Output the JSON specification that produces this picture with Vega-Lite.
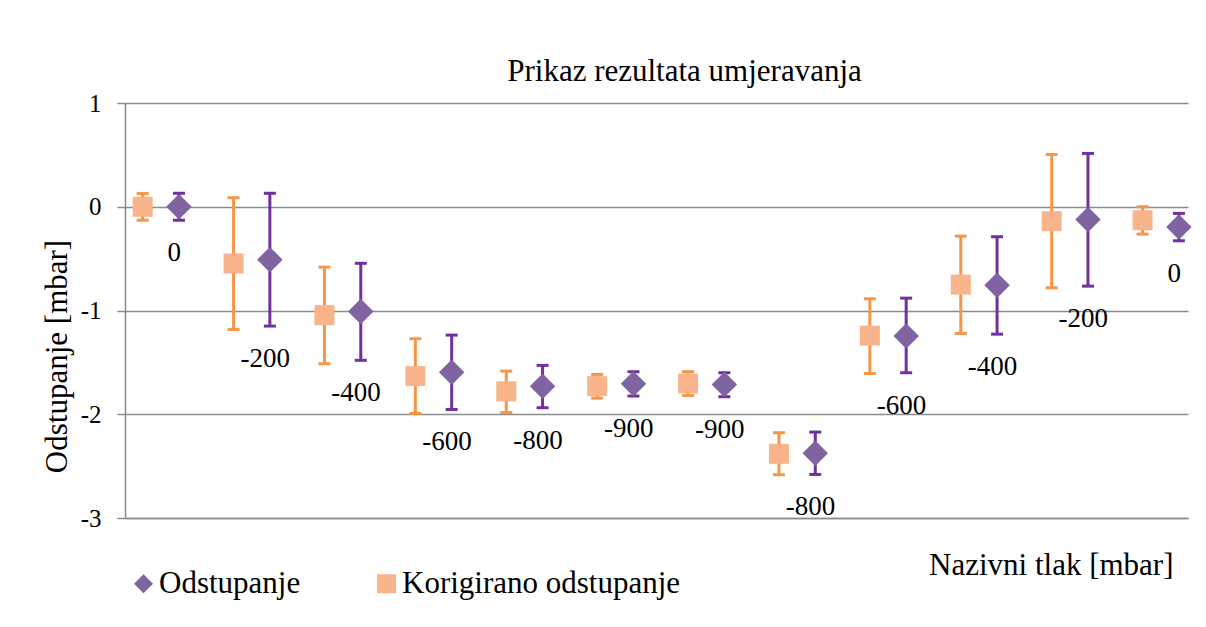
{
  "$schema": "https://vega.github.io/schema/vega-lite/v6.json",
  "width": 1063,
  "height": 415,
  "autosize": {"type": "none"},
  "padding": {"left": 125, "top": 103, "right": 18, "bottom": 109},
  "background": "white",
  "title": {
    "text": "Prikaz rezultata umjeravanja",
    "font": "Liberation Serif",
    "fontSize": 31,
    "fontWeight": "normal",
    "color": "black",
    "anchor": "middle",
    "baseline": "alphabetic",
    "offset": 18,
    "dx": 28,
    "dy": 39
  },
  "data": {
    "values": [
      {"i": 1, "series": "Odstupanje", "value": 0.0, "low": -0.13, "high": 0.13, "label": "0"},
      {"i": 2, "series": "Odstupanje", "value": -0.51, "low": -1.15, "high": 0.13, "label": "-200"},
      {"i": 3, "series": "Odstupanje", "value": -1.01, "low": -1.48, "high": -0.545, "label": "-400"},
      {"i": 4, "series": "Odstupanje", "value": -1.595, "low": -1.954, "high": -1.237, "label": "-600"},
      {"i": 5, "series": "Odstupanje", "value": -1.73, "low": -1.937, "high": -1.529, "label": "-800"},
      {"i": 6, "series": "Odstupanje", "value": -1.705, "low": -1.825, "high": -1.59, "label": "-900"},
      {"i": 7, "series": "Odstupanje", "value": -1.714, "low": -1.831, "high": -1.6, "label": "-900"},
      {"i": 8, "series": "Odstupanje", "value": -2.375, "low": -2.58, "high": -2.172, "label": "-800"},
      {"i": 9, "series": "Odstupanje", "value": -1.245, "low": -1.6, "high": -0.881, "label": "-600"},
      {"i": 10, "series": "Odstupanje", "value": -0.756, "low": -1.228, "high": -0.289, "label": "-400"},
      {"i": 11, "series": "Odstupanje", "value": -0.123, "low": -0.765, "high": 0.514, "label": "-200"},
      {"i": 12, "series": "Odstupanje", "value": -0.196, "low": -0.328, "high": -0.064, "label": "0"},
      {"i": 1, "series": "Korigirano odstupanje", "value": 0.0, "low": -0.13, "high": 0.127, "label": ""},
      {"i": 2, "series": "Korigirano odstupanje", "value": -0.547, "low": -1.183, "high": 0.087, "label": ""},
      {"i": 3, "series": "Korigirano odstupanje", "value": -1.045, "low": -1.513, "high": -0.582, "label": ""},
      {"i": 4, "series": "Korigirano odstupanje", "value": -1.633, "low": -1.992, "high": -1.272, "label": ""},
      {"i": 5, "series": "Korigirano odstupanje", "value": -1.78, "low": -1.983, "high": -1.584, "label": ""},
      {"i": 6, "series": "Korigirano odstupanje", "value": -1.729, "low": -1.845, "high": -1.616, "label": ""},
      {"i": 7, "series": "Korigirano odstupanje", "value": -1.703, "low": -1.819, "high": -1.59, "label": ""},
      {"i": 8, "series": "Korigirano odstupanje", "value": -2.381, "low": -2.583, "high": -2.178, "label": ""},
      {"i": 9, "series": "Korigirano odstupanje", "value": -1.242, "low": -1.607, "high": -0.887, "label": ""},
      {"i": 10, "series": "Korigirano odstupanje", "value": -0.75, "low": -1.221, "high": -0.283, "label": ""},
      {"i": 11, "series": "Korigirano odstupanje", "value": -0.139, "low": -0.781, "high": 0.504, "label": ""},
      {"i": 12, "series": "Korigirano odstupanje", "value": -0.13, "low": -0.264, "high": 0.0, "label": ""}
    ]
  },
  "encoding": {
    "x": {
      "field": "i",
      "type": "quantitative",
      "scale": {"domain": [0.606, 12.3], "nice": false, "zero": false},
      "axis": {
        "title": "Nazivni tlak [mbar]",
        "labels": false,
        "ticks": false,
        "grid": false,
        "domain": true,
        "domainColor": "#8c8c8c",
        "domainWidth": 1.5,
        "titleFont": "Liberation Serif",
        "titleFontSize": 31,
        "titleFontWeight": "normal",
        "titleColor": "black",
        "titleX": 1048,
        "titleY": 56,
        "titleAlign": "right",
        "titleBaseline": "alphabetic"
      }
    }
  },
  "layer": [
    {
      "transform": [{"filter": "datum.series === 'Korigirano odstupanje'"}],
      "mark": {"type": "rule", "strokeWidth": 3, "color": "#F79646", "xOffset": -18.15},
      "encoding": {
        "y": {
          "field": "low",
          "type": "quantitative",
          "scale": {"domain": [-3, 1], "nice": false, "zero": false},
          "axis": {
            "title": "Odstupanje [mbar]",
            "values": [-3, -2, -1, 0, 1],
            "labelExpr": "'' + datum.value",
            "grid": true,
            "gridColor": "#8c8c8c",
            "gridWidth": 1.5,
            "domainColor": "#8c8c8c",
            "domainWidth": 1.5,
            "tickColor": "#8c8c8c",
            "tickWidth": 1.5,
            "tickSize": 8,
            "labelFont": "Liberation Serif",
            "labelFontSize": 25,
            "labelColor": "black",
            "labelPadding": 16,
            "titleFont": "Liberation Serif",
            "titleFontSize": 31,
            "titleFontWeight": "normal",
            "titleColor": "black",
            "titleX": -58.5,
            "titleY": 253,
            "titleAngle": -90,
            "titleAlign": "center",
            "titleBaseline": "alphabetic"
          }
        },
        "y2": {"field": "high"}
      }
    },
    {
      "transform": [{"filter": "datum.series === 'Korigirano odstupanje'"}],
      "mark": {"type": "tick", "orient": "horizontal", "size": 12, "thickness": 3, "color": "#F79646", "opacity": 1, "xOffset": -18.15},
      "encoding": {"y": {"field": "low", "type": "quantitative"}}
    },
    {
      "transform": [{"filter": "datum.series === 'Korigirano odstupanje'"}],
      "mark": {"type": "tick", "orient": "horizontal", "size": 12, "thickness": 3, "color": "#F79646", "opacity": 1, "xOffset": -18.15},
      "encoding": {"y": {"field": "high", "type": "quantitative"}}
    },
    {
      "transform": [{"filter": "datum.series === 'Odstupanje'"}],
      "mark": {"type": "rule", "strokeWidth": 3, "color": "#7030A0", "xOffset": 18.15},
      "encoding": {
        "y": {"field": "low", "type": "quantitative"},
        "y2": {"field": "high"}
      }
    },
    {
      "transform": [{"filter": "datum.series === 'Odstupanje'"}],
      "mark": {"type": "tick", "orient": "horizontal", "size": 12, "thickness": 3, "color": "#7030A0", "opacity": 1, "xOffset": 18.15},
      "encoding": {"y": {"field": "low", "type": "quantitative"}}
    },
    {
      "transform": [{"filter": "datum.series === 'Odstupanje'"}],
      "mark": {"type": "tick", "orient": "horizontal", "size": 12, "thickness": 3, "color": "#7030A0", "opacity": 1, "xOffset": 18.15},
      "encoding": {"y": {"field": "high", "type": "quantitative"}}
    },
    {
      "transform": [{"filter": "datum.series === 'Korigirano odstupanje'"}],
      "mark": {"type": "point", "filled": true, "opacity": 1, "size": 400, "strokeWidth": 0, "xOffset": -18.15},
      "encoding": {
        "y": {"field": "value", "type": "quantitative"},
        "color": {
          "field": "series",
          "type": "nominal",
          "scale": {"domain": ["Odstupanje", "Korigirano odstupanje"], "range": ["#8064A2", "#F9B48C"]}
        },
        "shape": {
          "field": "series",
          "type": "nominal",
          "scale": {"domain": ["Odstupanje", "Korigirano odstupanje"], "range": ["diamond", "square"]}
        }
      }
    },
    {
      "transform": [{"filter": "datum.series === 'Odstupanje'"}],
      "mark": {"type": "point", "filled": true, "opacity": 1, "size": 650, "strokeWidth": 0, "xOffset": 18.15},
      "encoding": {
        "y": {"field": "value", "type": "quantitative"},
        "color": {"field": "series", "type": "nominal"},
        "shape": {"field": "series", "type": "nominal"}
      }
    },
    {
      "transform": [{"filter": "datum.series === 'Odstupanje'"}],
      "mark": {"type": "text", "font": "Liberation Serif", "fontSize": 27, "color": "black", "align": "center", "baseline": "middle", "dy": 33, "xOffset": 13.5},
      "encoding": {
        "y": {"field": "low", "type": "quantitative"},
        "text": {"field": "label", "type": "nominal"}
      }
    }
  ],
  "config": {
    "view": {"stroke": null},
    "legend": {
      "orient": "none",
      "legendX": 3,
      "legendY": 465,
      "direction": "horizontal",
      "columns": 2,
      "columnPadding": 70,
      "title": null,
      "labelFont": "Liberation Serif",
      "labelFontSize": 31,
      "labelColor": "black",
      "labelOffset": 0,
      "labelLimit": 500,
      "symbolSize": 360,
      "symbolStrokeWidth": 0,
      "symbolOpacity": 1
    }
  }
}
